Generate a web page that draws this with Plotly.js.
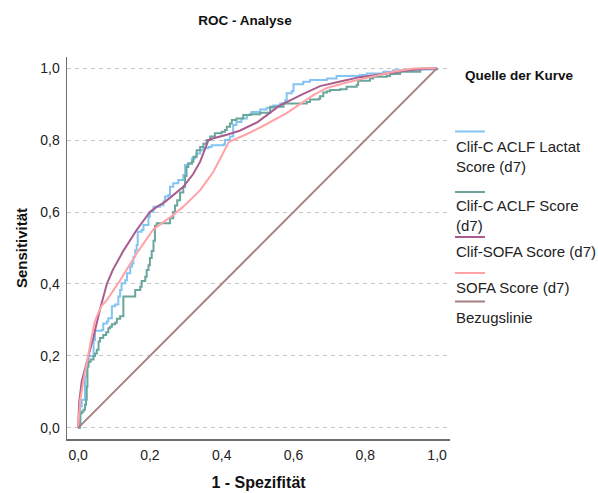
<!DOCTYPE html>
<html>
<head>
<meta charset="utf-8">
<script src="https://cdn.plot.ly/plotly-3.0.1.min.js"></script>
<style>html,body{margin:0;padding:0;background:#fff;}#chart{width:598px;height:493px;}</style>
</head>
<body>
<div id="chart"></div>
<script>
// ---- data ----
const seriesNames = ["Clif-C ACLF Lactat<br>Score (d7)", "Clif-C ACLF Score<br>(d7)", "Clif-SOFA Score (d7)", "SOFA Score (d7)", "Bezugslinie"];
const seriesColors = ["#82c4f2", "#6aa69c", "#a95c8e", "#ffa3a7", "#a98080"];

const lactX = [0, 0.006, 0.010, 0.019, 0.024, 0.029, 0.043, 0.047, 0.066, 0.070,
  0.080, 0.084, 0.094, 0.094, 0.103, 0.112, 0.117, 0.121, 0.131, 0.136,
  0.145, 0.150, 0.154, 0.159, 0.163, 0.166, 0.177, 0.182, 0.196, 0.200,
  0.210, 0.228, 0.238, 0.242, 0.251, 0.256, 0.265, 0.279, 0.293, 0.298,
  0.306, 0.317, 0.326, 0.330, 0.340, 0.349, 0.363, 0.372, 0.405, 0.409,
  0.423, 0.432, 0.441, 0.455, 0.470, 0.483, 0.507, 0.525, 0.544, 0.563,
  0.577, 0.581, 0.595, 0.600, 0.627, 0.646, 0.693, 0.720, 0.785, 0.804,
  0.850, 0.878, 0.925, 1.0];
const lactY = [0, 0.060, 0.078, 0.143, 0.180, 0.200, 0.244, 0.270, 0.272, 0.290,
  0.296, 0.305, 0.310, 0.338, 0.343, 0.365, 0.383, 0.402, 0.410, 0.430,
  0.448, 0.457, 0.476, 0.494, 0.508, 0.545, 0.550, 0.564, 0.587, 0.601,
  0.615, 0.619, 0.629, 0.643, 0.647, 0.670, 0.680, 0.689, 0.703, 0.731,
  0.735, 0.749, 0.754, 0.763, 0.772, 0.777, 0.781, 0.786, 0.788, 0.800,
  0.810, 0.842, 0.850, 0.860, 0.870, 0.878, 0.885, 0.890, 0.896, 0.902,
  0.911, 0.930, 0.936, 0.955, 0.962, 0.967, 0.971, 0.978, 0.981, 0.985,
  0.990, 0.994, 0.996, 1.0];

const aclfX = [0, 0.004, 0.006, 0.010, 0.015, 0.019, 0.022, 0.024, 0.026, 0.029,
  0.035, 0.043, 0.047, 0.052, 0.057, 0.061, 0.070, 0.078, 0.084, 0.089,
  0.094, 0.103, 0.108, 0.117, 0.126, 0.126, 0.150, 0.159, 0.173, 0.177,
  0.187, 0.191, 0.196, 0.200, 0.205, 0.210, 0.214, 0.219, 0.247, 0.256,
  0.265, 0.270, 0.276, 0.284, 0.293, 0.298, 0.302, 0.307, 0.317, 0.321,
  0.330, 0.340, 0.349, 0.358, 0.368, 0.381, 0.400, 0.409, 0.414, 0.423,
  0.428, 0.441, 0.460, 0.479, 0.507, 0.535, 0.572, 0.637, 0.646, 0.670,
  0.674, 0.683, 0.693, 0.702, 0.730, 0.748, 0.776, 0.780, 0.813, 0.822,
  0.860, 0.869, 0.897, 0.953, 0.953, 1.0];
const aclfY = [0, 0.013, 0.040, 0.045, 0.050, 0.064, 0.078, 0.115, 0.170, 0.184,
  0.190, 0.200, 0.207, 0.217, 0.240, 0.250, 0.258, 0.266, 0.277, 0.281,
  0.288, 0.292, 0.303, 0.310, 0.316, 0.365, 0.365, 0.383, 0.392, 0.408,
  0.420, 0.439, 0.452, 0.472, 0.492, 0.520, 0.562, 0.569, 0.569, 0.583,
  0.600, 0.618, 0.633, 0.654, 0.670, 0.700, 0.725, 0.735, 0.740, 0.754,
  0.772, 0.781, 0.790, 0.800, 0.810, 0.819, 0.823, 0.828, 0.837, 0.846,
  0.856, 0.860, 0.870, 0.872, 0.876, 0.893, 0.902, 0.906, 0.913, 0.915,
  0.922, 0.932, 0.936, 0.939, 0.941, 0.948, 0.953, 0.965, 0.971, 0.976,
  0.978, 0.984, 0.990, 0.994, 0.999, 1.0];

const clifSofaX = [0, 0.003, 0.010, 0.024, 0.042, 0.061, 0.080, 0.097, 0.126, 0.163,
  0.200, 0.220, 0.240, 0.265, 0.293, 0.320, 0.340, 0.363, 0.380, 0.414,
  0.450, 0.500, 0.560, 0.620, 0.674, 0.730, 0.785, 0.860, 0.925, 1.0];
const clifSofaY = [0, 0.070, 0.130, 0.180, 0.250, 0.330, 0.400, 0.440, 0.492, 0.550,
  0.600, 0.615, 0.627, 0.647, 0.670, 0.705, 0.740, 0.800, 0.806, 0.815,
  0.826, 0.850, 0.895, 0.925, 0.950, 0.963, 0.975, 0.985, 0.995, 1.0];

const sofaX = [0, 0.006, 0.015, 0.024, 0.033, 0.045, 0.052, 0.066, 0.080, 0.117,
  0.163, 0.210, 0.256, 0.293, 0.340, 0.377, 0.420, 0.460, 0.507, 0.544,
  0.581, 0.618, 0.655, 0.693, 0.748, 0.813, 0.878, 0.934, 1.0];
const sofaY = [0, 0.078, 0.133, 0.180, 0.226, 0.290, 0.310, 0.340, 0.355, 0.410,
  0.485, 0.552, 0.585, 0.615, 0.661, 0.712, 0.795, 0.812, 0.835, 0.855,
  0.875, 0.900, 0.925, 0.945, 0.960, 0.975, 0.990, 0.999, 1.0];

const refX = [0, 1];
const refY = [0, 1];

const tickVals = [0, 0.2, 0.4, 0.6, 0.8, 1.0];
const legendTitle = "Quelle der Kurve";

// ---- layout helpers ----
const W = 598, H = 493;
const M = {l: 67, r: 148, t: 57, b: 54};
const pw = W - M.l - M.r, ph = H - M.t - M.b;
const pxX = p => (p - M.l) / pw;
const pxY = p => (H - M.b - p) / ph;

const xs = [lactX, aclfX, clifSofaX, sofaX, refX];
const ys = [lactY, aclfY, clifSofaY, sofaY, refY];
const shapesKind = ["hv", "hv", "linear", "linear", "linear"];

const traces = xs.map((x, i) => ({
  type: "scatter", mode: "lines", x: x, y: ys[i],
  name: seriesNames[i].replace("<br>", " "),
  line: {color: seriesColors[i], width: 2, shape: shapesKind[i]},
  showlegend: false, hoverinfo: "skip"
}));

const FONT = "Liberation Sans, Arial, sans-serif";
const legendLineY = [131.5, 192, 237, 273, 301.5];
const legendTextY = [156, 215.5, 251, 287, 317];

const shapes = seriesNames.map((n, i) => ({
  type: "line", xref: "paper", yref: "paper",
  x0: pxX(455), x1: pxX(485), y0: pxY(legendLineY[i]), y1: pxY(legendLineY[i]),
  line: {color: seriesColors[i], width: 2}
}));

const annotations = seriesNames.map((n, i) => ({
  xref: "paper", yref: "paper", x: pxX(454), y: pxY(legendTextY[i]),
  xanchor: "left", yanchor: "middle", align: "left", showarrow: false,
  text: n, font: {family: FONT, size: 15, color: "#222"}
}));
annotations.push({
  xref: "paper", yref: "paper", x: pxX(519), y: pxY(76),
  xanchor: "center", yanchor: "middle", showarrow: false,
  text: legendTitle, font: {family: FONT, size: 13.5, color: "#111", weight: "bold"}
});

const axisCommon = {
  tickvals: tickVals, tickformat: ".1f",
  showline: true, linecolor: "#6f6f6f", linewidth: 1.5,
  zeroline: false, ticks: "outside", ticklen: 3, tickcolor: "rgba(0,0,0,0)",
  tickfont: {family: FONT, size: 14, color: "#222"}
};

const layout = {
  width: W, height: H, margin: M,
  paper_bgcolor: "#fff", plot_bgcolor: "#fff",
  separators: ",.",
  font: {family: FONT},
  title: {text: "ROC - Analyse", x: 245 / W, xref: "container", xanchor: "center",
          y: 1 - 20 / H, yref: "container", yanchor: "middle",
          font: {family: FONT, size: 13.5, color: "#111", weight: "bold"}},
  xaxis: Object.assign({}, axisCommon, {
    range: [-0.031, 1.036], showgrid: false,
    title: {text: "1 - Spezifität", standoff: 14, font: {family: FONT, size: 16, color: "#111", weight: "bold"}}
  }),
  yaxis: Object.assign({}, axisCommon, {
    range: [-0.031, 1.031], showgrid: true, gridcolor: "#c4c4c4", gridwidth: 1, griddash: "4px,4px",
    title: {text: "Sensitivität", standoff: 9, font: {family: FONT, size: 15, color: "#111", weight: "bold"}}
  }),
  shapes: shapes,
  annotations: annotations,
  showlegend: false
};

Plotly.newPlot("chart", traces, layout, {displayModeBar: false, staticPlot: true});
</script>
</body>
</html>
